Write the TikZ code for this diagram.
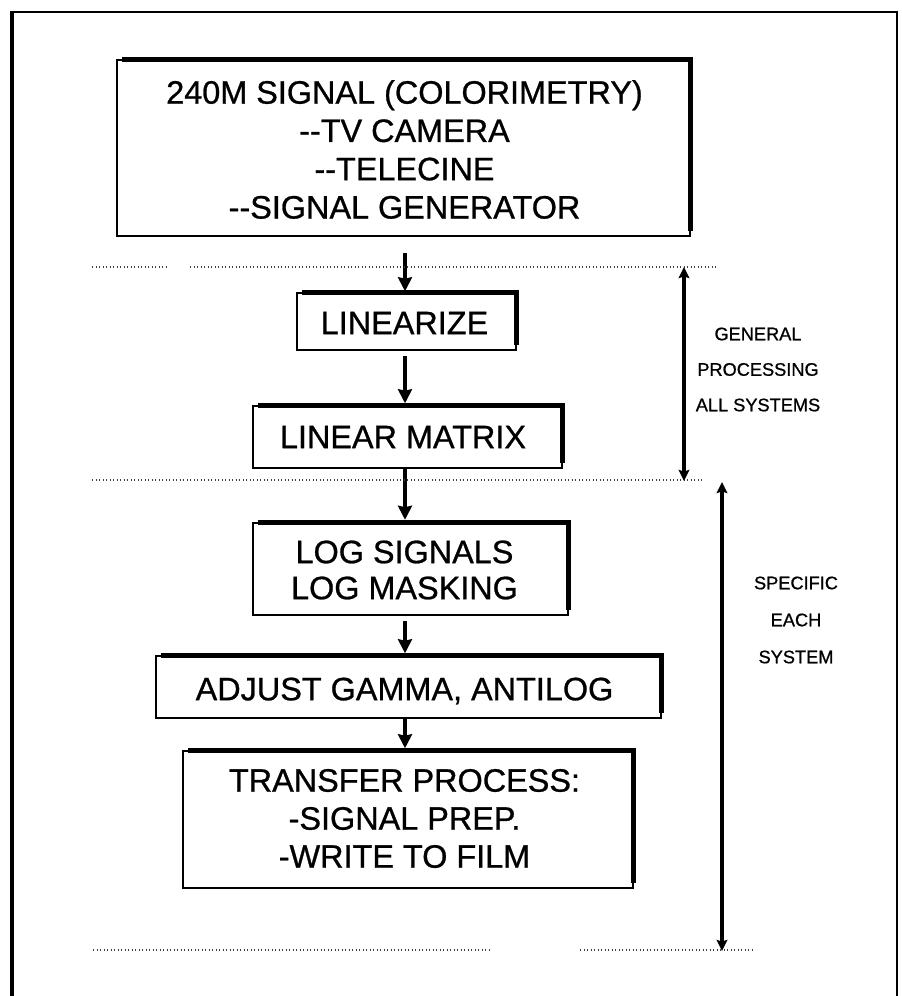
\documentclass[tikz,border=0pt]{standalone}
\usepackage{fontspec}
\setmainfont{Liberation Sans}[FakeBold=0.8]
\usetikzlibrary{arrows.meta}

% heavy top and right edge of a process box
\newcommand\heavyedge[1]{%
  \draw[ledge] ([xshift=5.5pt]#1.north west) -- (#1.north east) -- ([yshift=6pt]#1.south east);}

\begin{document}
\begin{tikzpicture}[x=1pt,y=-1pt,
  box/.style={draw, line width=1.5pt, inner sep=0pt},
  ledge/.style={line width=5pt},
  boxtext/.style={align=center, inner sep=0pt, font=\fontsize{32.4}{38.3}\selectfont},
  sidetext/.style={align=center, inner sep=0pt, font=\fontsize{18.2}{35.5}\selectfont},
  flow/.style={line width=3.6pt, -{Stealth[length=14pt,width=14pt,inset=1.5pt]}},
  span/.style={line width=3.2pt, {Stealth[length=11pt,width=10.5pt,inset=1.5pt]}-{Stealth[length=11pt,width=10.5pt,inset=1.5pt]}},
  guide/.style={black!75, line width=1.1pt, dash pattern=on 1.1pt off 2.4pt}
]
\useasboundingbox (0,0) rectangle (902,996);
\clip (0,0) rectangle (902,996);

% outer frame (open at the bottom of the sheet)
\draw[line width=3.6pt] (12,1010) -- (12,12);
\draw[line width=2.6pt] (10.2,12) -- (897,12) -- (897,1010);

% process boxes
\node[box, minimum width=573pt, minimum height=176pt] (b1) at (403.5,148) {};
\node[box, minimum width=219pt, minimum height=57pt]  (b2) at (406.5,321.5) {};
\node[box, minimum width=309pt, minimum height=62pt]  (b3) at (407.5,437) {};
\node[box, minimum width=315pt, minimum height=92pt]  (b4) at (410.5,569) {};
\node[box, minimum width=505pt, minimum height=62pt]  (b5) at (408.5,687) {};
\node[box, minimum width=450pt, minimum height=137pt] (b6) at (408,819.5) {};
\foreach \b in {b1,b2,b3,b4,b5,b6} {\heavyedge{\b}}

% box texts
\node[boxtext] (t1) at (404.5,149.5) {240M SIGNAL (COLORIMETRY)\\-{}-TV CAMERA\\-{}-TELECINE\\-{}-SIGNAL GENERATOR};
\node[boxtext] (t2) at (404.5,323) {LINEARIZE};
\node[boxtext] (t3) at (403,437) {LINEAR MATRIX};
\node[boxtext, font=\fontsize{32.4}{36}\selectfont] (t4) at (404.5,570) {LOG SIGNALS\\LOG MASKING};
\node[boxtext] (t5) at (404.5,691) {ADJUST GAMMA, ANTILOG};
\node[boxtext, font=\fontsize{32.4}{38}\selectfont] (t6) at (404.5,818.5) {TRANSFER PROCESS:\\-SIGNAL PREP.\\-WRITE TO FILM};

% flow arrows
\coordinate (col) at (405,0);
\draw[flow, shorten <=16pt, shorten >=1pt] (b1.south -| col) -- (b2.north -| col);
\draw[flow, shorten <=5pt, shorten >=2pt] (b2.south -| col) -- (b3.north -| col);
\draw[flow, shorten >=2.5pt] (b3.south -| col) -- (b4.north -| col);
\draw[flow, shorten <=5pt, shorten >=2pt] (b4.south -| col) -- (b5.north -| col);
\draw[flow, shorten >=2pt] (b5.south -| col) -- (b6.north -| col);

% dotted division lines
\draw[guide] (92,267) -- (167,267);
\draw[guide] (190,267) -- (717,267);
\draw[guide] (92,480) -- (704,480);
\draw[guide] (93,950) -- (490,950);
\draw[guide] (580,950) -- (753,950);

% range markers
\coordinate (g1) at (684,267);
\coordinate (g2) at (684,481);
\coordinate (s1) at (722,482);
\coordinate (s2) at (722,951);
\draw[span] (g1) -- (g2);
\draw[span] (s1) -- (s2);

\node[sidetext] (gen) at (758,369.5) {GENERAL\\PROCESSING\\ALL SYSTEMS};
\node[sidetext, font=\fontsize{18.2}{37}\selectfont] (spec) at (796,620) {SPECIFIC\\EACH\\SYSTEM};
\end{tikzpicture}
\end{document}
